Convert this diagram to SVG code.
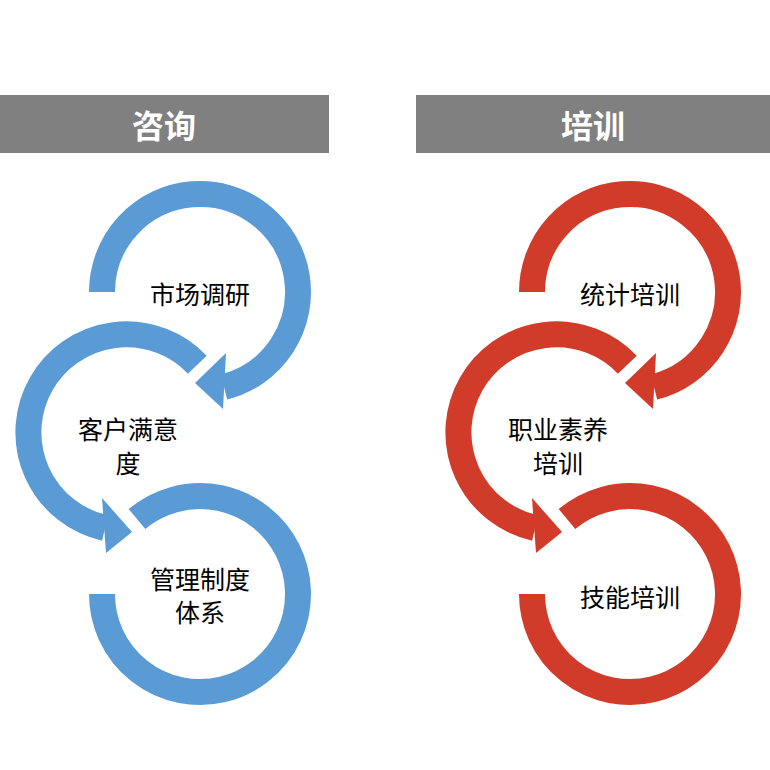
<svg xmlns="http://www.w3.org/2000/svg" width="770" height="770" viewBox="0 0 770 770">
<style>
.hdr{fill:#808080}
.ht{fill:#fff;font:bold 32px "Noto Sans CJK SC",sans-serif;text-anchor:middle;dominant-baseline:central}
.lb{fill:#000;font:25px "Noto Sans CJK SC",sans-serif;text-anchor:middle;dominant-baseline:central}
.b{fill:none;stroke:#5B9BD5;stroke-width:26}
.r{fill:none;stroke:#D13B2A;stroke-width:26}
.bf{fill:#5B9BD5}.rf{fill:#D13B2A}
</style>
<rect width="770" height="770" fill="#fff"/>
<g id="header-consult"><rect class="hdr" x="0" y="95" width="329" height="58"/><text class="ht" x="164" y="124">咨询</text></g>
<g id="header-train"><rect class="hdr" x="416" y="95" width="354" height="58"/><text class="ht" x="593" y="124">培训</text></g>
<g id="connectors">
<g id="blue">
<path class="b" d="M102 292 A98 98 0 1 1 224 387"/>
<polygon class="bf" points="226,353 223,409 195,383"/>
<path class="b" d="M197.3 364.7 A98 98 0 1 0 105 528"/>
<polygon class="bf" points="102,498 106,553 132,532"/>
<path class="b" d="M102 594 A98 98 0 1 0 137 519"/>
</g>
<g id="red" transform="translate(430,0)">
<path class="r" d="M102 292 A98 98 0 1 1 224 387"/>
<polygon class="rf" points="226,353 223,409 195,383"/>
<path class="r" d="M197.3 364.7 A98 98 0 1 0 105 528"/>
<polygon class="rf" points="102,498 106,553 132,532"/>
<path class="r" d="M102 594 A98 98 0 1 0 137 519"/>
</g>
</g>
<g id="n1"><text class="lb" x="200" y="293">市场调研</text></g>
<g id="n2"><text class="lb" x="128" y="428">客户满意</text><text class="lb" x="128" y="462">度</text></g>
<g id="n3"><text class="lb" x="200" y="578">管理制度</text><text class="lb" x="200" y="611">体系</text></g>
<g id="n4"><text class="lb" x="630" y="293">统计培训</text></g>
<g id="n5"><text class="lb" x="558" y="428">职业素养</text><text class="lb" x="558" y="462">培训</text></g>
<g id="n6"><text class="lb" x="630" y="596">技能培训</text></g>
</svg>
